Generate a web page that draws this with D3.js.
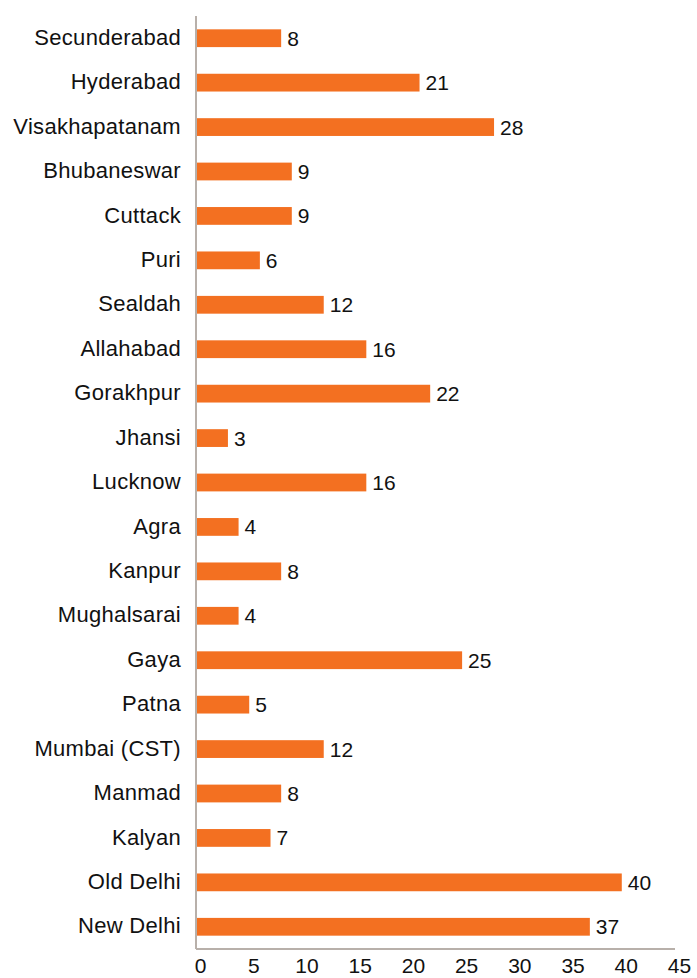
<!DOCTYPE html>
<html><head><meta charset="utf-8">
<script src="https://cdn.jsdelivr.net/npm/d3@7"></script>
<style>body{margin:0;background:#fff}</style>
</head><body>
<svg id="c" width="697" height="978"></svg>
<script>
const categories = ["Secunderabad","Hyderabad","Visakhapatanam","Bhubaneswar","Cuttack","Puri","Sealdah","Allahabad","Gorakhpur","Jhansi","Lucknow","Agra","Kanpur","Mughalsarai","Gaya","Patna","Mumbai (CST)","Manmad","Kalyan","Old Delhi","New Delhi"];
const values = [8,21,28,9,9,6,12,16,22,3,16,4,8,4,25,5,12,8,7,40,37];
const xTicks = [0,5,10,15,20,25,30,35,40,45];

const svg = d3.select("#c");
const font = "'Liberation Sans', Arial, sans-serif";
const x = d3.scaleLinear().domain([0,45]).range([196,675]);
const y = d3.scaleBand().domain(categories).range([16,949]).paddingInner(0.6).paddingOuter(0.3);

svg.selectAll("rect.bar").data(values).join("rect")
  .attr("class","bar")
  .attr("x", x(0))
  .attr("y", (d,i)=>y(categories[i]))
  .attr("width", d=>x(d)-x(0))
  .attr("height", y.bandwidth())
  .attr("fill","#F37021");

svg.selectAll("text.val").data(values).join("text")
  .attr("class","val")
  .attr("x", d=>x(d)+6)
  .attr("y", (d,i)=>y(categories[i])+y.bandwidth()/2)
  .attr("dy","0.36em")
  .attr("font-family", font).attr("font-size", 21).attr("fill","#111")
  .text(d=>d);

// y axis
const yAxis = d3.axisLeft(y).tickSize(0).tickPadding(15);
const gy = svg.append("g").attr("transform",`translate(${x(0)},0)`).call(yAxis);
gy.select(".domain").attr("stroke","#b8b0aa").attr("stroke-width",2).attr("d","M0,16V949");
gy.selectAll("text").attr("font-family",font).attr("font-size",22).attr("fill","#111").attr("letter-spacing","0.3px").attr("dy","0.3em");

// x axis
const xAxis = d3.axisBottom(x).tickValues(xTicks).tickSize(0).tickPadding(9);
const gx = svg.append("g").attr("transform","translate(0,949)").call(xAxis);
gx.select(".domain").attr("stroke","#b8b0aa").attr("stroke-width",2).attr("d",`M${x(0)},0H${x(45)}`);
gx.selectAll("text").attr("font-family",font).attr("font-size",21).attr("fill","#111").attr("dx",4);
</script>
</body></html>
